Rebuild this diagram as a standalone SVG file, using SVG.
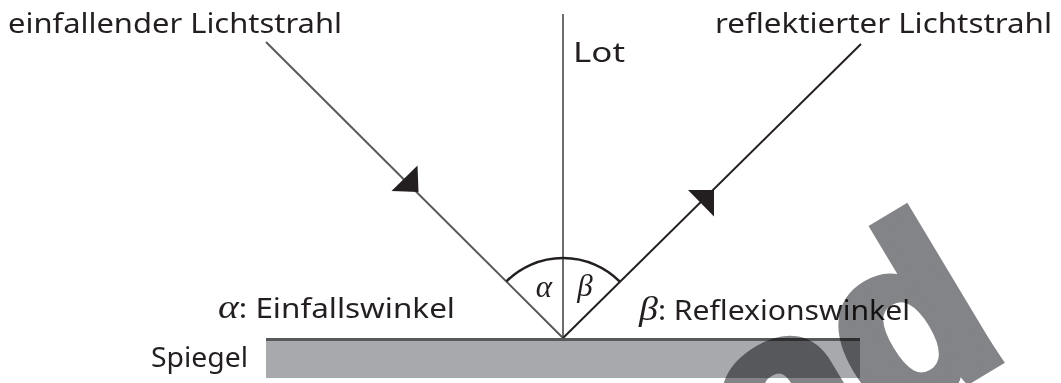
<svg xmlns="http://www.w3.org/2000/svg" width="1061" height="383" viewBox="0 0 1061 383">
<style>
.lbl{font-family:"Noto Sans","Open Sans","DejaVu Sans",sans-serif;font-size:27px;fill:#231f20}
.gr{font-family:"Liberation Serif","DejaVu Serif",serif;font-style:italic;fill:#231f20}
.ray{fill:none;stroke-width:2}
</style>
<rect width="1061" height="383" fill="#fff"/>
<g id="mirror">
<rect x="266" y="339" width="594" height="39" fill="#a7a9ac"/>
<line x1="266" y1="339.5" x2="860" y2="339.5" stroke="#58595b" stroke-width="3"/>
</g>
<g id="connectors">
<line id="lot" class="ray" x1="563" y1="14" x2="563" y2="339" stroke="#6d6e71"/>
<line id="incident" class="ray" x1="266" y1="42" x2="563" y2="338" stroke="#58595b"/>
<line id="reflected" class="ray" x1="563" y1="338" x2="861" y2="44" stroke="#231f20"/>
<polygon points="391.5,191 417.5,165.5 418.5,192" fill="#231f20"/>
<polygon points="688,190 714,190 714,216.5" fill="#231f20"/>
<path d="M506.4,281.4 A80,80 0 0 1 619.6,281.4" fill="none" stroke="#231f20" stroke-width="2.5"/>
</g>
<g id="angle-labels">
<text class="gr" x="544" y="297" font-size="31" text-anchor="middle">α</text>
<text class="gr" x="585" y="296" font-size="31" text-anchor="middle">β</text>
</g>
<g id="label-incident"><text class="lbl" x="8" y="33" textLength="334" lengthAdjust="spacingAndGlyphs">einfallender Lichtstrahl</text></g>
<g id="label-lot"><text class="lbl" x="573" y="62" textLength="52" lengthAdjust="spacingAndGlyphs">Lot</text></g>
<g id="label-reflected"><text class="lbl" x="715" y="33" textLength="337" lengthAdjust="spacingAndGlyphs">reflektierter Lichtstrahl</text></g>
<g id="label-alpha"><text class="lbl" x="218" y="318" textLength="237" lengthAdjust="spacingAndGlyphs"><tspan class="gr" font-size="34">α</tspan>: Einfallswinkel</text></g>
<g id="label-beta"><text class="lbl" x="639" y="320" textLength="271" lengthAdjust="spacingAndGlyphs"><tspan class="gr" font-size="34">β</tspan>: Reflexionswinkel</text></g>
<g id="label-mirror"><text class="lbl" x="151" y="367" textLength="97" lengthAdjust="spacingAndGlyphs">Spiegel</text></g>
<g id="watermark" style="mix-blend-mode:multiply">
<text transform="translate(768,498) rotate(-31)" x="0" y="0" font-family="Liberation Sans,Arial,sans-serif" font-weight="bold" font-size="242" fill="#838487" stroke="#838487" stroke-width="12">ad</text>
</g>
</svg>
